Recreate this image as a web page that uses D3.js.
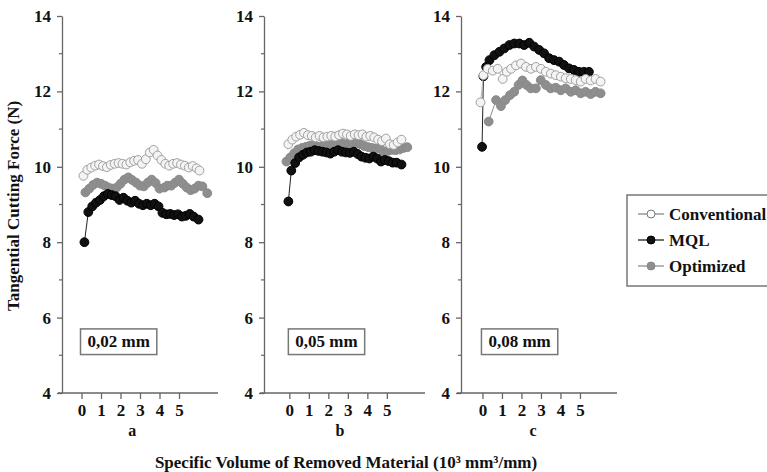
<!DOCTYPE html>
<html>
<head>
<meta charset="utf-8">
<script src="https://cdn.jsdelivr.net/npm/d3@7"></script>
<style>
  body { margin: 0; background: #fff; }
  svg text { font-family: "Liberation Serif", "DejaVu Serif", serif; font-weight: bold; fill: #111; }
</style>
</head>
<body>
<div id="chart"></div>
<script>
// data (x = 10^3 mm3/mm, y = force in N)
const seriesNames = ["Conventional", "MQL", "Optimized"];
const panelLabels = ["a", "b", "c"];
const depthLabels = ["0,02 mm", "0,05 mm", "0,08 mm"];
const yTicks = [4, 6, 8, 10, 12, 14];
const yMinorTicks = [5, 7, 9, 11, 13];
const xTicks = [0, 1, 2, 3, 4, 5];

// panel a
const convA_x = [0.1,0.3,0.5,0.7,0.9,1.1,1.3,1.5,1.7,1.9,2.1,2.3,2.5,2.7,2.9,3.1,3.3,3.5,3.7,3.9,4.1,4.3,4.5,4.7,4.9,5.1,5.3,5.5,5.7,5.9,6.05];
const convA_y = [9.76,9.92,9.98,10.03,10.06,10.02,9.99,10.05,10.08,10.1,10.08,10.06,10.12,10.16,10.18,10.08,10.2,10.38,10.45,10.3,10.18,10.08,10.03,10.08,10.1,10.06,10.03,9.98,10.02,9.96,9.9];
const mqlA_x = [0.15,0.35,0.55,0.75,0.95,1.15,1.35,1.55,1.75,1.95,2.15,2.35,2.55,2.75,2.95,3.15,3.35,3.55,3.75,3.95,4.15,4.35,4.55,4.75,4.95,5.15,5.35,5.55,5.75,6.0];
const mqlA_y = [8.0,8.8,8.95,9.05,9.12,9.22,9.28,9.25,9.22,9.12,9.18,9.1,9.05,9.1,9.02,8.98,9.02,8.98,9.02,8.95,8.78,8.74,8.75,8.72,8.74,8.68,8.7,8.75,8.68,8.6];
const optA_x = [0.2,0.4,0.6,0.8,1.0,1.2,1.4,1.6,1.8,2.0,2.2,2.4,2.6,2.8,3.0,3.2,3.4,3.6,3.8,4.0,4.25,4.4,4.6,4.8,5.0,5.2,5.4,5.6,5.8,6.0,6.2,6.45];
const optA_y = [9.32,9.42,9.52,9.58,9.55,9.5,9.45,9.42,9.45,9.55,9.66,9.72,9.65,9.58,9.5,9.48,9.58,9.66,9.57,9.42,9.45,9.5,9.5,9.58,9.66,9.55,9.45,9.38,9.42,9.5,9.48,9.3];

// panel b
const convB_x = [-0.05,0.15,0.35,0.55,0.75,0.95,1.15,1.35,1.55,1.75,1.95,2.15,2.35,2.55,2.75,2.95,3.15,3.35,3.55,3.75,3.95,4.15,4.35,4.55,4.75,4.95,5.15,5.35,5.55,5.75];
const convB_y = [10.6,10.72,10.8,10.85,10.9,10.84,10.82,10.78,10.82,10.78,10.8,10.82,10.8,10.84,10.88,10.86,10.82,10.86,10.84,10.86,10.8,10.82,10.78,10.72,10.68,10.75,10.6,10.58,10.65,10.72];
const mqlB_x = [-0.05,0.1,0.3,0.5,0.7,0.9,1.1,1.3,1.5,1.7,1.9,2.1,2.3,2.5,2.7,2.9,3.1,3.3,3.5,3.7,3.9,4.1,4.3,4.5,4.7,4.9,5.1,5.3,5.5,5.75];
const mqlB_y = [9.08,9.9,10.1,10.25,10.32,10.38,10.4,10.44,10.42,10.4,10.38,10.35,10.4,10.44,10.4,10.38,10.37,10.4,10.34,10.27,10.24,10.22,10.27,10.22,10.14,10.18,10.15,10.11,10.11,10.06];
const optB_x = [-0.15,0.05,0.25,0.45,0.65,0.85,1.05,1.25,1.45,1.65,1.85,2.05,2.25,2.45,2.65,2.85,3.05,3.25,3.45,3.65,3.85,4.05,4.25,4.45,4.65,4.85,5.05,5.25,5.45,5.65,5.85,6.05];
const optB_y = [10.14,10.25,10.36,10.46,10.5,10.53,10.56,10.58,10.53,10.55,10.62,10.6,10.58,10.62,10.64,10.6,10.62,10.64,10.62,10.6,10.55,10.52,10.5,10.48,10.5,10.36,10.42,10.45,10.44,10.46,10.5,10.52];

// panel c
const convC_x = [-0.1,0.05,0.27,0.53,0.78,1.04,1.25,1.47,1.72,1.98,2.23,2.49,2.74,3.0,3.25,3.51,3.76,4.02,4.27,4.53,4.78,5.04,5.29,5.55,5.8,6.06];
const convC_y = [11.71,12.43,12.6,12.55,12.6,12.33,12.52,12.6,12.69,12.74,12.65,12.6,12.65,12.6,12.52,12.47,12.43,12.39,12.35,12.33,12.3,12.26,12.33,12.29,12.33,12.26];
const mqlC_x = [-0.02,0.05,0.19,0.36,0.61,0.87,1.12,1.38,1.63,1.89,2.14,2.4,2.65,2.91,3.16,3.42,3.67,3.93,4.18,4.44,4.69,4.95,5.2,5.46];
const mqlC_y = [10.53,12.4,12.65,12.83,12.96,13.05,13.14,13.23,13.27,13.27,13.23,13.29,13.19,13.1,13.01,12.88,12.83,12.79,12.7,12.61,12.57,12.52,12.52,12.52];
const optC_x = [0.32,0.7,0.95,1.17,1.41,1.63,1.85,2.05,2.26,2.48,2.74,2.99,3.25,3.5,3.76,4.02,4.27,4.53,4.78,5.04,5.29,5.55,5.8,6.06];
const optC_y = [11.2,11.77,11.61,11.77,11.9,11.99,12.17,12.29,12.17,12.08,12.08,12.3,12.17,12.08,12.1,12.03,12.08,11.99,12.03,11.95,11.99,11.93,11.99,11.95];

// series drawing styles
const styles = {
    Conventional: { fill: "#f4f4f4", stroke: "#a0a0a0", line: "#b5b5b5" },
    MQL: { fill: "#111", stroke: "#000", line: "#222" },
    Optimized: { fill: "#8e8e8e", stroke: "#8a8a8a", line: "#8e8e8e" }
};

// panel layout (left axis position + x domain)
const panels = [
    { axisX: 62, xDomain: [-1.0, 7.0], axisEnd: 218,
      series: { Conventional: [convA_x, convA_y], MQL: [mqlA_x, mqlA_y], Optimized: [optA_x, optA_y] } },
    { axisX: 264, xDomain: [-1.3, 6.7], axisEnd: 425,
      series: { Conventional: [convB_x, convB_y], MQL: [mqlB_x, mqlB_y], Optimized: [optB_x, optB_y] } },
    { axisX: 461, xDomain: [-1.1, 6.9], axisEnd: 617,
      series: { Conventional: [convC_x, convC_y], MQL: [mqlC_x, mqlC_y], Optimized: [optC_x, optC_y] } }
];

const width = 767;
const height = 472;
const panelWidth = 156;
const serif = '"Liberation Serif", "DejaVu Serif", serif';

const svg = d3.select("#chart")
    .append("svg")
        .attr("width", width)
        .attr("height", height)
        .attr("viewBox", [0, 0, width, height]);

svg.append("rect")
    .attr("width", width)
    .attr("height", height)
    .attr("fill", "#fff");

const y = d3.scaleLinear()
    .domain([4, 14])
    .range([393, 16]);

const drawOrder = ["Optimized", "MQL", "Conventional"];

panels.forEach((p, i) => {
    const x = d3.scaleLinear()
        .domain(p.xDomain)
        .range([p.axisX, p.axisX + panelWidth]);

    const g = svg.append("g");

    // y axis with major and minor ticks
    const yAxis = g.append("g")
        .attr("transform", `translate(${p.axisX},0)`)
        .call(d3.axisLeft(y).tickValues(yTicks).tickSize(5).tickPadding(6).tickSizeOuter(0));
    yAxis.attr("font-family", null);
    yAxis.select(".domain").attr("stroke", "#666").attr("stroke-width", 1.3);
    yAxis.selectAll(".tick line").attr("stroke", "#666").attr("stroke-width", 1.3);
    yAxis.selectAll(".tick text")
        .style("font-family", serif)
        .style("font-size", "17px")
        .attr("fill", "#111");

    g.append("g")
        .selectAll("line")
        .data(yMinorTicks)
        .join("line")
            .attr("x1", p.axisX - 3)
            .attr("x2", p.axisX)
            .attr("y1", d => y(d))
            .attr("y2", d => y(d))
            .attr("stroke", "#666")
            .attr("stroke-width", 1.2);

    // x axis line runs from the y axis to the panel end
    g.append("line")
        .attr("x1", p.axisX - 4)
        .attr("x2", p.axisEnd)
        .attr("y1", y(4))
        .attr("y2", y(4))
        .attr("stroke", "#666")
        .attr("stroke-width", 1.3);

    const xAxis = g.append("g")
        .attr("transform", `translate(0,${y(4)})`)
        .call(d3.axisBottom(x).tickValues(xTicks).tickSize(6).tickPadding(5).tickFormat(d3.format("d")));
    xAxis.attr("font-family", null);
    xAxis.select(".domain").remove();
    xAxis.selectAll(".tick line").attr("stroke", "#666").attr("stroke-width", 1.3);
    xAxis.selectAll(".tick text")
        .style("font-family", serif)
        .style("font-size", "17px")
        .attr("fill", "#111");

    // panel letter
    g.append("text")
        .attr("x", x(2.6))
        .attr("y", 436)
        .attr("text-anchor", "middle")
        .style("font-size", "16px")
        .text(panelLabels[i]);

    // depth of cut box
    const boxG = g.append("g");
    const boxText = boxG.append("text")
        .attr("x", x(0) + 6)
        .attr("y", (y(5.7) + y(5.02)) / 2 + 5.5)
        .style("font-size", "17px")
        .text(depthLabels[i]);
    const bb = boxText.node().getBBox();
    boxG.insert("rect", "text")
        .attr("x", x(0) - 1)
        .attr("y", y(5.7))
        .attr("width", bb.width + 14)
        .attr("height", y(5.02) - y(5.7))
        .attr("fill", "#fff")
        .attr("stroke", "#777")
        .attr("stroke-width", 1.5);

    // series lines and markers
    drawOrder.forEach(name => {
        const [xs, ys] = p.series[name];
        const pts = xs.map((v, k) => [v, ys[k]]);
        const st = styles[name];

        g.append("path")
            .datum(pts)
            .attr("fill", "none")
            .attr("stroke", st.line)
            .attr("stroke-width", 1)
            .attr("d", d3.line().x(d => x(d[0])).y(d => y(d[1])));

        g.append("g")
            .selectAll("circle")
            .data(pts)
            .join("circle")
                .attr("cx", d => x(d[0]))
                .attr("cy", d => y(d[1]))
                .attr("r", 4.4)
                .attr("fill", st.fill)
                .attr("stroke", st.stroke)
                .attr("stroke-width", 1);
    });
});

// axis titles
svg.append("text")
    .attr("x", 346)
    .attr("y", 468)
    .attr("text-anchor", "middle")
    .style("font-size", "17px")
    .text("Specific Volume of Removed Material (10³ mm³/mm)");

svg.append("text")
    .attr("transform", "translate(19,206) rotate(-90)")
    .attr("text-anchor", "middle")
    .style("font-size", "17px")
    .text("Tangential Cutting Force (N)");

// legend
const legend = svg.append("g");
legend.append("rect")
    .attr("x", 627)
    .attr("y", 195)
    .attr("width", 160)
    .attr("height", 91)
    .attr("fill", "#fff")
    .attr("stroke", "#777")
    .attr("stroke-width", 1.5);

const legendItems = legend.selectAll(".legend-item")
    .data(seriesNames)
    .join("g")
        .attr("class", "legend-item")
        .attr("transform", (d, i) => `translate(0,${214 + i * 26})`);

legendItems.append("line")
    .attr("x1", 638)
    .attr("x2", 664)
    .attr("stroke", d => d === "Conventional" ? "#888" : styles[d].line)
    .attr("stroke-width", 1.3);

legendItems.append("circle")
    .attr("cx", 651)
    .attr("r", 4)
    .attr("fill", d => d === "Conventional" ? "#fff" : styles[d].fill)
    .attr("stroke", d => d === "Conventional" ? "#777" : styles[d].stroke);

legendItems.append("text")
    .attr("x", 669)
    .attr("y", 5.5)
    .style("font-size", "17px")
    .text(d => d);
</script>
</body>
</html>
